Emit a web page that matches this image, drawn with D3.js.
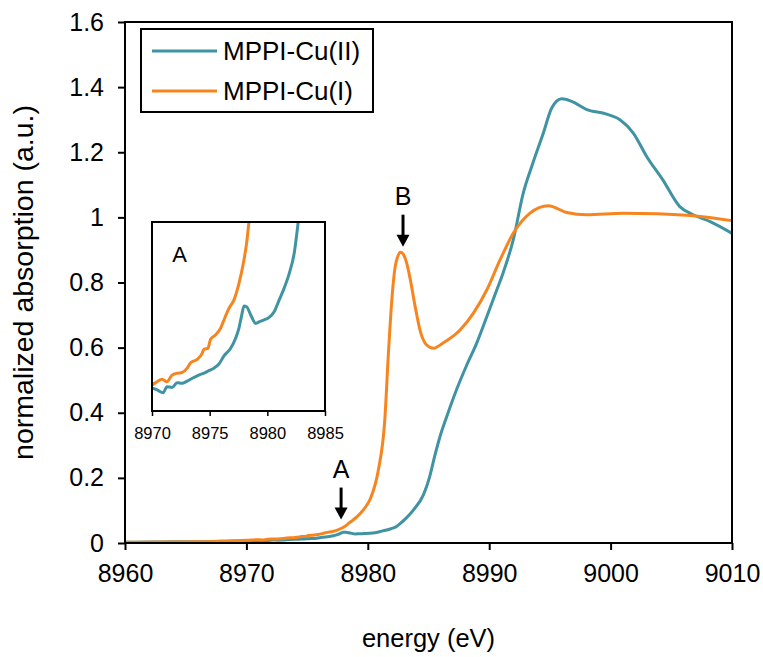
<!DOCTYPE html>
<html>
<head>
<meta charset="utf-8">
<script src="https://cdn.jsdelivr.net/npm/d3@7"></script>
<style>
  body { margin: 0; background: #fff; }
  svg { display: block; font-family: "Liberation Sans", Arial, Helvetica, sans-serif; }
</style>
</head>
<body>
<svg id="chart" width="763" height="657"></svg>
<script>
"use strict";

// MPPI-Cu(II) : teal curve
const cu2Energy = [8960, 8962, 8964, 8966, 8968, 8969, 8970.0, 8970.44, 8970.96, 8971.3, 8971.74, 8972.18, 8972.6, 8973.05, 8973.5, 8974.06, 8974.5, 8974.93, 8975.37, 8975.8, 8976.24, 8976.82, 8977.25, 8977.54, 8977.75, 8977.98, 8978.2, 8978.56, 8979.0, 8979.28, 8979.72, 8980.15, 8980.59, 8981.02, 8981.46, 8981.9, 8982.33, 8982.68, 8983.2, 8983.75, 8984.57, 8985.1, 8985.5, 8985.95, 8986.5, 8987.3, 8988.1, 8988.97, 8989.8, 8990.5, 8991.15, 8991.98, 8992.8, 8993.6, 8994.46, 8995.14, 8995.97, 8996.8, 8998.0, 8999.68, 9000.77, 9001.87, 9002.97, 9004.3, 9005.7, 9006.8, 9008.2, 9010];
const cu2Abs = [0.002, 0.003, 0.0035, 0.004, 0.005, 0.006, 0.0072, 0.0067, 0.0058, 0.0077, 0.0075, 0.009, 0.0088, 0.0095, 0.0104, 0.0114, 0.012, 0.0128, 0.0136, 0.0149, 0.0175, 0.0199, 0.0231, 0.0263, 0.0299, 0.0333, 0.0331, 0.0305, 0.0278, 0.0283, 0.0289, 0.0297, 0.0315, 0.0352, 0.039, 0.0437, 0.0501, 0.0601, 0.078, 0.101, 0.147, 0.204, 0.265, 0.327, 0.388, 0.47, 0.542, 0.614, 0.695, 0.765, 0.83, 0.931, 1.074, 1.167, 1.259, 1.335, 1.364, 1.356, 1.332, 1.317, 1.3, 1.259, 1.187, 1.115, 1.033, 1.008, 0.987, 0.951];

// MPPI-Cu(I) : orange curve
const cu1Energy = [8960, 8963, 8966, 8968, 8969, 8970.0, 8970.44, 8970.87, 8971.3, 8971.74, 8972.18, 8972.6, 8973.05, 8973.34, 8973.92, 8974.35, 8974.5, 8974.85, 8975.08, 8975.5, 8975.95, 8976.24, 8976.67, 8977.1, 8977.54, 8977.92, 8978.2, 8978.41, 8979.1, 8979.7, 8980.2, 8980.87, 8981.4, 8981.7, 8981.96, 8982.24, 8982.45, 8982.7, 8982.95, 8983.2, 8983.47, 8983.9, 8984.3, 8984.85, 8985.4, 8986.2, 8987.6, 8988.7, 8989.8, 8990.9, 8991.98, 8993.36, 8994.87, 8996.38, 8998.03, 9001.05, 9003.8, 9006.8, 9010];
const cu1Abs = [0.002, 0.003, 0.004, 0.005, 0.0065, 0.0083, 0.0093, 0.0101, 0.0093, 0.0114, 0.012, 0.0122, 0.0136, 0.0153, 0.0164, 0.0183, 0.0196, 0.0199, 0.0228, 0.0241, 0.0263, 0.0289, 0.0326, 0.0352, 0.0405, 0.0469, 0.0532, 0.0601, 0.08, 0.105, 0.135, 0.224, 0.378, 0.584, 0.737, 0.845, 0.878, 0.893, 0.885, 0.86, 0.815, 0.726, 0.654, 0.608, 0.598, 0.614, 0.654, 0.706, 0.777, 0.87, 0.951, 1.013, 1.036, 1.015, 1.008, 1.013, 1.011, 1.005, 0.99];

const seriesNames = ["MPPI-Cu(II)", "MPPI-Cu(I)"];
const seriesColors = ["#3f93a3", "#f7851f"];

const xTicks = [8960, 8970, 8980, 8990, 9000, 9010];
const yTicks = [0, 0.2, 0.4, 0.6, 0.8, 1, 1.2, 1.4, 1.6];
const insetXTicks = [8970, 8975, 8980, 8985];

// arrows: label, energy, value at arrow tip
const markLabels = ["A", "B"];
const markEnergy = [8977.8, 8982.9];
const markValue = [0.072, 0.91];

const svg = d3.select("#chart");

const x = d3.scaleLinear().domain([8960, 9010]).range([125, 732]);
const y = d3.scaleLinear().domain([0, 1.6]).range([543, 22]);

const series = [
  cu2Energy.map((e, i) => [e, cu2Abs[i]]),
  cu1Energy.map((e, i) => [e, cu1Abs[i]])
];

// axes
const xAxis = svg.append("g")
    .attr("transform", `translate(0,${y(0)})`)
    .call(d3.axisBottom(x).tickValues(xTicks).tickFormat(d3.format("d"))
      .tickSize(7).tickSizeOuter(0).tickPadding(14));
const yAxis = svg.append("g")
    .attr("transform", `translate(${x(8960)},0)`)
    .call(d3.axisLeft(y).tickValues(yTicks).tickFormat(d => String(d))
      .tickSize(7).tickSizeOuter(0).tickPadding(14));

[xAxis, yAxis].forEach(a => {
  a.select(".domain").remove();
  a.selectAll(".tick line").attr("stroke", "#000").attr("stroke-width", 2);
  a.selectAll(".tick text").attr("font-size", 25).attr("fill", "#000")
    .attr("font-family", "Liberation Sans, Arial, sans-serif");
});

// curves
const line = d3.line().x(d => x(d[0])).y(d => y(d[1])).curve(d3.curveMonotoneX);
svg.append("g").selectAll("path")
    .data(series)
  .enter().append("path")
    .attr("d", line)
    .attr("fill", "none")
    .attr("stroke", (d, i) => seriesColors[i])
    .attr("stroke-width", 3)
    .attr("stroke-linejoin", "round");

// frame
svg.append("rect")
    .attr("x", x(8960)).attr("y", y(1.6))
    .attr("width", x(9010) - x(8960)).attr("height", y(0) - y(1.6))
    .attr("fill", "none").attr("stroke", "#000").attr("stroke-width", 2);

// axis titles
svg.append("text")
    .attr("x", (x(8960) + x(9010)) / 2).attr("y", 647)
    .attr("text-anchor", "middle").attr("font-size", 25.5)
    .text("energy (eV)");
svg.append("text")
    .attr("transform", `translate(33,${(y(0) + y(1.6)) / 2}) rotate(-90)`)
    .attr("text-anchor", "middle").attr("font-size", 28.5)
    .text("normalized absorption (a.u.)");

// arrows A / B
const marks = svg.append("g").selectAll("g")
    .data(markLabels)
  .enter().append("g")
    .attr("transform", (d, i) => `translate(${x(markEnergy[i])},${y(markValue[i])})`);
marks.append("line")
    .attr("x1", 0).attr("x2", 0).attr("y1", -32).attr("y2", -10)
    .attr("stroke", "#000").attr("stroke-width", 3);
marks.append("path")
    .attr("d", "M-6.5,-12 L6.5,-12 L0,0 Z")
    .attr("fill", "#000");
marks.append("text")
    .attr("x", 0).attr("y", -42)
    .attr("text-anchor", "middle").attr("font-size", 25)
    .text(d => d);

// legend
const legend = svg.append("g");
legend.append("rect")
    .attr("x", 141).attr("y", 29).attr("width", 232).attr("height", 83)
    .attr("fill", "#fff").attr("stroke", "#000").attr("stroke-width", 2);
const items = legend.selectAll("g.item")
    .data(seriesNames)
  .enter().append("g")
    .attr("class", "item")
    .attr("transform", (d, i) => `translate(152,${51 + i * 40})`);
items.append("line")
    .attr("x1", 0).attr("x2", 65)
    .attr("stroke", (d, i) => seriesColors[i]).attr("stroke-width", 3);
items.append("text")
    .attr("x", 71).attr("y", 9)
    .attr("font-size", 26)
    .text(d => d);

// inset
const xi = d3.scaleLinear().domain([8970, 8985]).range([152, 325]);
const yi = d3.scaleLinear().domain([0, 0.06]).range([411, 222]);

const inset = svg.append("g");
inset.append("rect")
    .attr("x", xi(8970)).attr("y", yi(0.06))
    .attr("width", xi(8985) - xi(8970)).attr("height", yi(0) - yi(0.06))
    .attr("fill", "#fff");

svg.append("clipPath").attr("id", "inset-clip")
  .append("rect")
    .attr("x", xi(8970)).attr("y", yi(0.06))
    .attr("width", xi(8985) - xi(8970)).attr("height", yi(0) - yi(0.06));

const insetLine = d3.line().x(d => xi(d[0])).y(d => yi(d[1])).curve(d3.curveMonotoneX);
inset.append("g").attr("clip-path", "url(#inset-clip)")
  .selectAll("path")
    .data(series.map(s => s.filter(d => d[0] >= 8969 && d[0] <= 8984)))
  .enter().append("path")
    .attr("d", insetLine)
    .attr("fill", "none")
    .attr("stroke", (d, i) => seriesColors[i])
    .attr("stroke-width", 3)
    .attr("stroke-linejoin", "round");

const insetAxis = inset.append("g")
    .attr("transform", `translate(0,${yi(0)})`)
    .call(d3.axisBottom(xi).tickValues(insetXTicks).tickFormat(d3.format("d"))
      .tickSize(5).tickSizeOuter(0).tickPadding(11));
insetAxis.select(".domain").remove();
insetAxis.selectAll(".tick line").attr("stroke", "#000").attr("stroke-width", 1.5);
insetAxis.selectAll(".tick text").attr("font-size", 16.5).attr("fill", "#000")
    .attr("font-family", "Liberation Sans, Arial, sans-serif");

inset.append("rect")
    .attr("x", xi(8970)).attr("y", yi(0.06))
    .attr("width", xi(8985) - xi(8970)).attr("height", yi(0) - yi(0.06))
    .attr("fill", "none").attr("stroke", "#000").attr("stroke-width", 2);

inset.append("text")
    .attr("x", xi(8972.4)).attr("y", yi(0.06) + 40)
    .attr("text-anchor", "middle").attr("font-size", 22)
    .text("A");
</script>
</body>
</html>
